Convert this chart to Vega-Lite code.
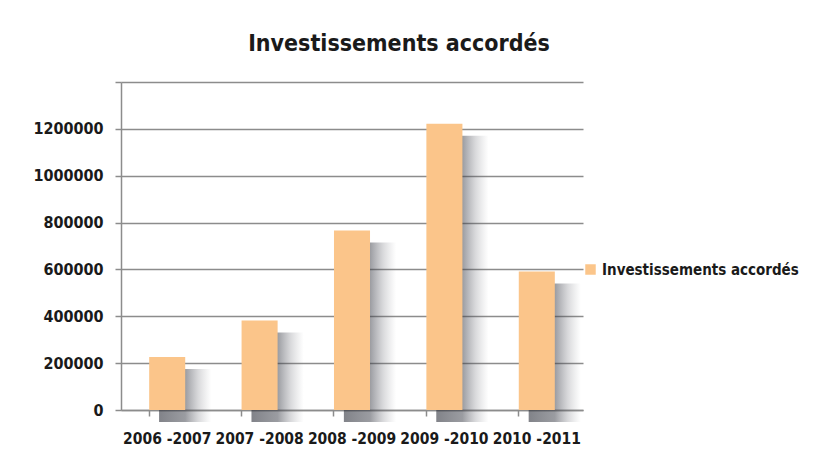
{
  "$schema": "https://vega.github.io/schema/vega-lite/v6.json",
  "autosize": "none",
  "width": 462,
  "height": 328,
  "padding": {"left": 121, "top": 82, "right": 232, "bottom": 60},
  "background": "white",
  "title": {
    "text": "Investissements accordés",
    "font": "DejaVu Sans Condensed, sans-serif",
    "fontSize": 23,
    "fontWeight": "bold",
    "color": "#1a1a1a",
    "frame": "group",
    "anchor": "middle",
    "dx": 47,
    "offset": 25
  },
  "data": {
    "values": [
      {"periode": "2006 -2007", "montant": 226000, "serie": "Investissements accordés"},
      {"periode": "2007 -2008", "montant": 382000, "serie": "Investissements accordés"},
      {"periode": "2008 -2009", "montant": 766000, "serie": "Investissements accordés"},
      {"periode": "2009 -2010", "montant": 1222000, "serie": "Investissements accordés"},
      {"periode": "2010 -2011", "montant": 591000, "serie": "Investissements accordés"}
    ]
  },
  "encoding": {
    "x": {
      "field": "periode",
      "type": "nominal",
      "sort": null,
      "scale": {"paddingInner": 0.61, "paddingOuter": 0.305},
      "axis": {
        "title": null,
        "labelAngle": 0,
        "bandPosition": 0,
        "labelFont": "DejaVu Sans Condensed, sans-serif",
        "labelFontSize": 15.5,
        "labelFontWeight": "bold",
        "labelColor": "#1a1a1a",
        "labelPadding": 15,
        "labelOverlap": false,
        "domainColor": "#8c8c8c",
        "domainWidth": 1.5,
        "tickColor": "#8c8c8c",
        "tickWidth": 1.5,
        "tickSize": 6
      }
    },
    "y": {
      "field": "montant",
      "type": "quantitative",
      "scale": {"domain": [0, 1400000], "nice": false},
      "axis": {
        "title": null,
        "values": [0, 200000, 400000, 600000, 800000, 1000000, 1200000, 1400000],
        "format": "d",
        "labelExpr": "datum.value == 1400000 ? '' : datum.label",
        "labelFont": "DejaVu Sans Condensed, sans-serif",
        "labelFontSize": 16,
        "labelFontWeight": "bold",
        "labelColor": "#1a1a1a",
        "labelPadding": 12,
        "grid": true,
        "gridColor": "#8c8c8c",
        "gridWidth": 1.5,
        "domainColor": "#8c8c8c",
        "domainWidth": 1.5,
        "tickColor": "#8c8c8c",
        "tickWidth": 1.5,
        "tickSize": 6
      }
    }
  },
  "layer": [
    {
      "mark": {
        "type": "bar",
        "width": {"band": 1.45},
        "xOffset": 18,
        "yOffset": 12,
        "color": {
          "gradient": "linear",
          "x1": 0, "y1": 0, "x2": 1, "y2": 0,
          "stops": [
            {"offset": 0, "color": "rgba(45,48,58,0.6)"},
            {"offset": 0.5, "color": "rgba(55,58,68,0.5)"},
            {"offset": 0.75, "color": "rgba(80,82,92,0.22)"},
            {"offset": 1, "color": "rgba(110,112,120,0)"}
          ]
        }
      }
    },
    {
      "mark": {"type": "bar"},
      "encoding": {
        "color": {
          "field": "serie",
          "type": "nominal",
          "scale": {"range": ["#FBC58A"]},
          "legend": {
            "title": null,
            "orient": "none",
            "legendX": 462,
            "legendY": 180,
            "symbolType": "square",
            "symbolSize": 110,
            "symbolStrokeWidth": 0,
            "labelFont": "DejaVu Sans Condensed, sans-serif",
            "labelFontSize": 15,
            "labelFontWeight": "bold",
            "labelColor": "#1a1a1a",
            "labelLimit": 300
          }
        }
      }
    }
  ],
  "config": {"view": {"stroke": null}}
}
